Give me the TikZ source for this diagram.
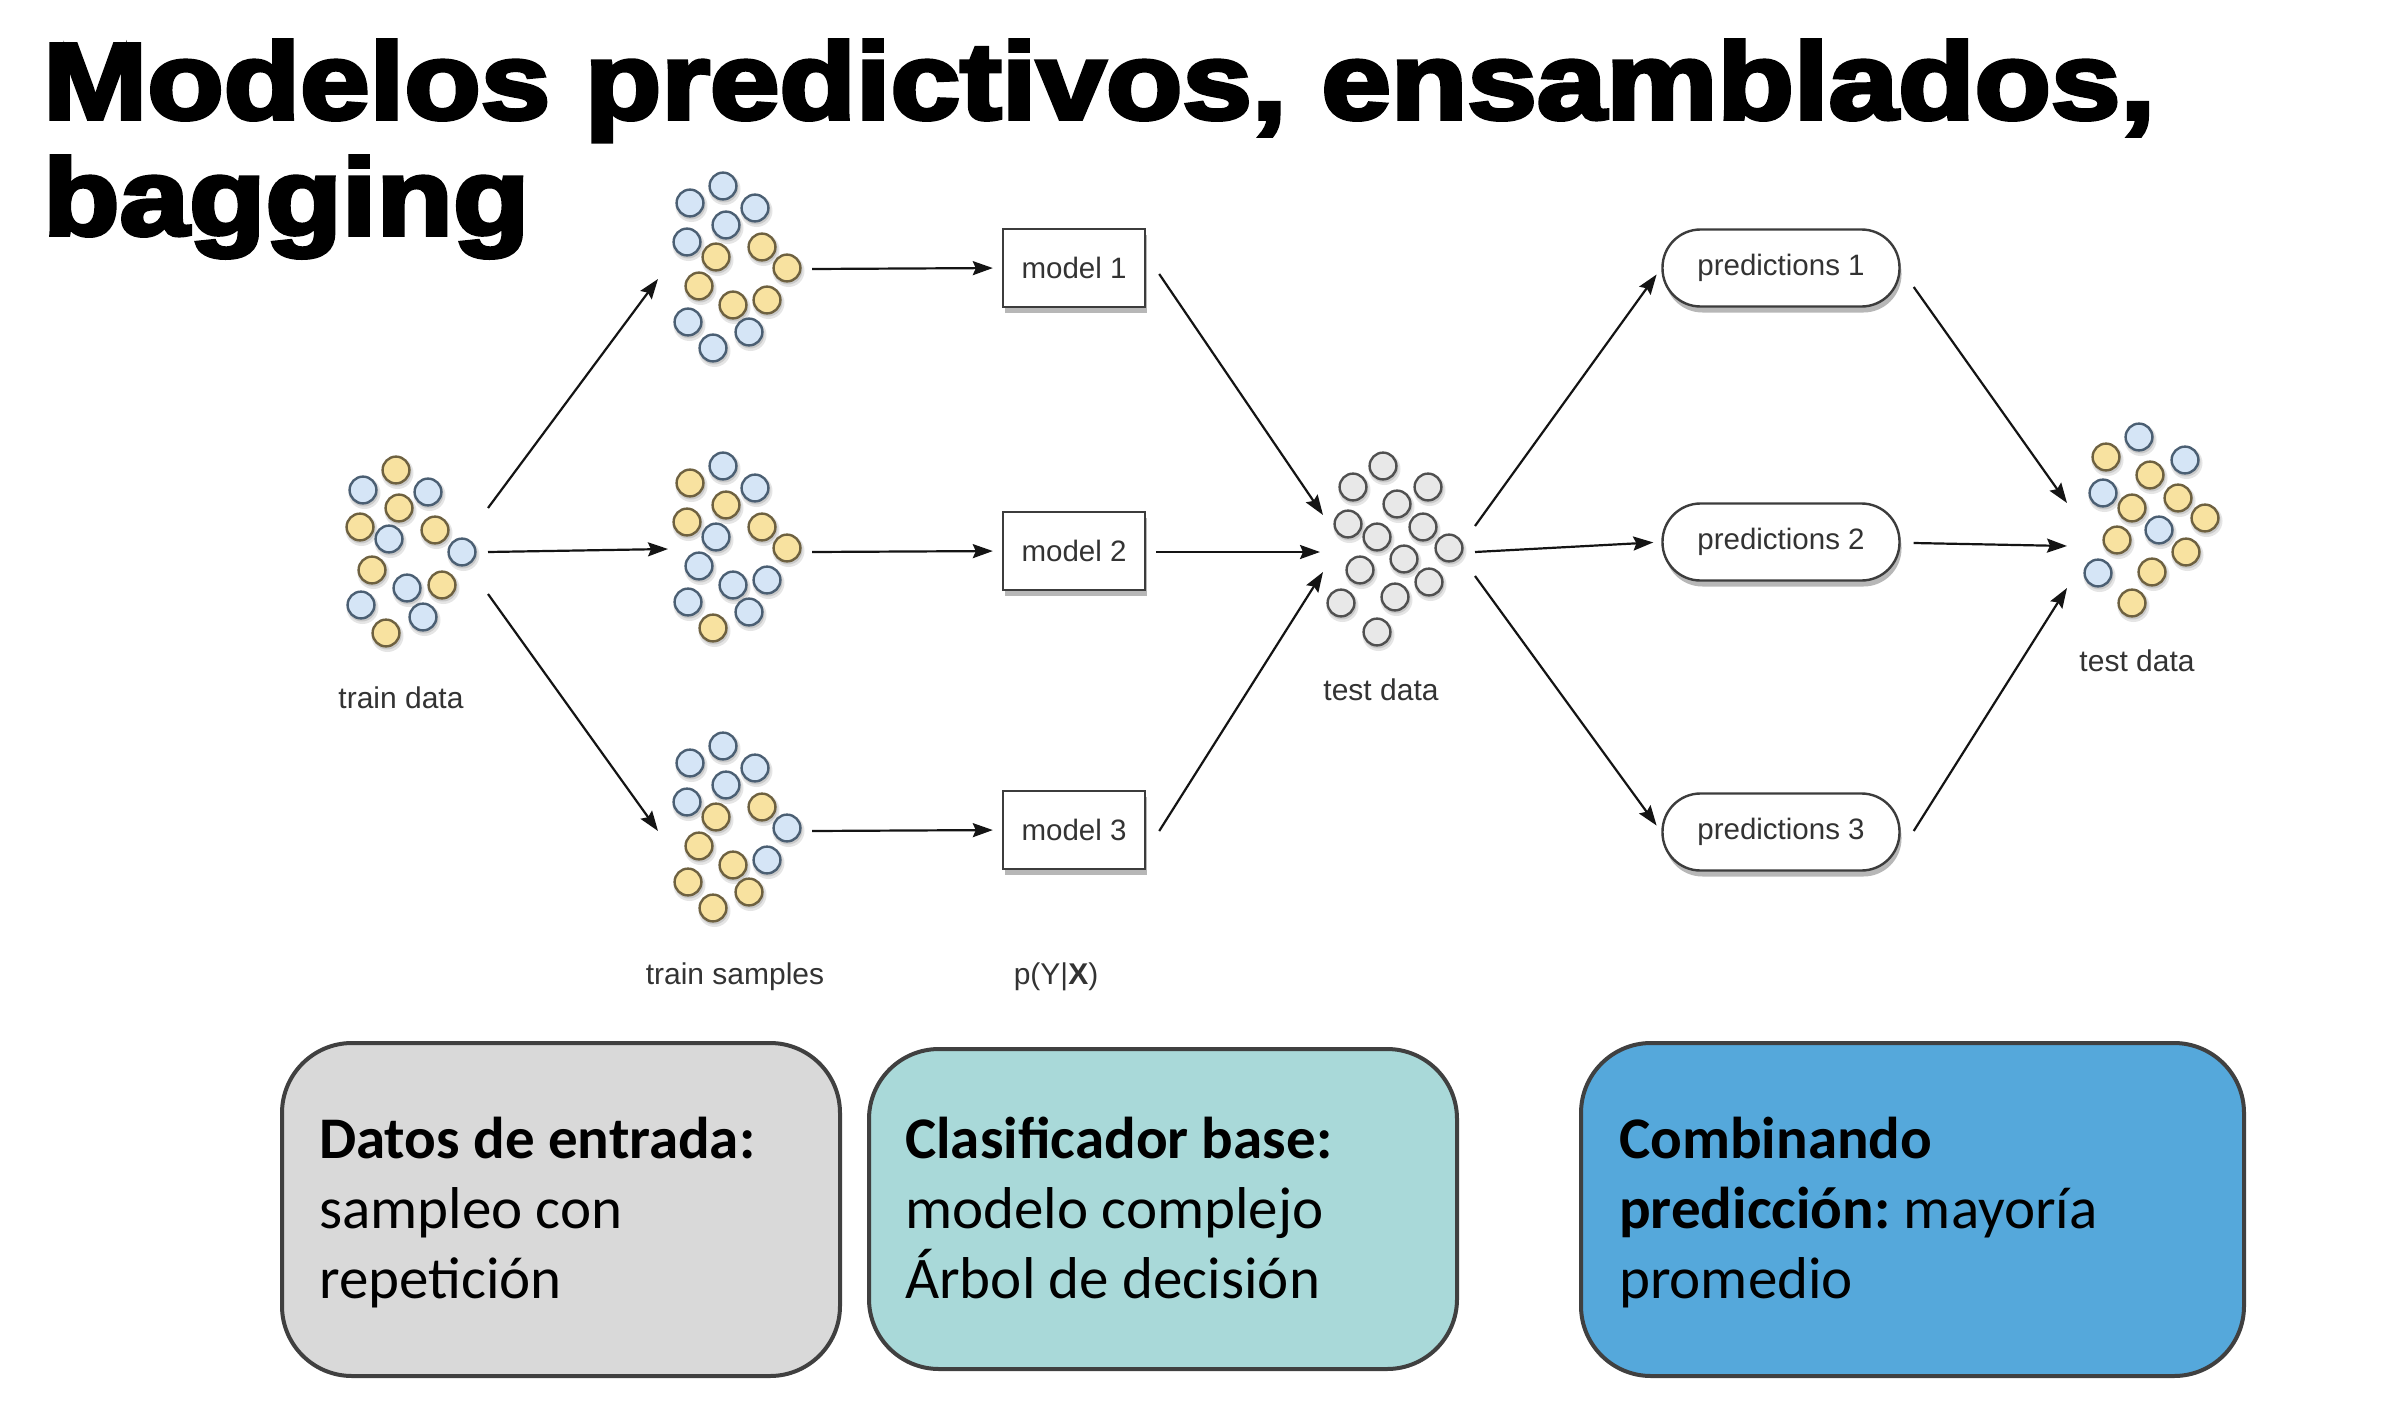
\documentclass[tikz,border=0pt]{standalone}
\usepackage{fontspec}
\usepackage{graphicx}
\usetikzlibrary{arrows.meta,shadows,calc}
\setmainfont{Liberation Sans}
\newfontfamily\boxfont{Carlito}
\newfontfamily\titlefont[BoldFeatures={FakeBold=3.5}]{Liberation Sans}

\definecolor{labelgray}{HTML}{333333}
\definecolor{bluefill}{HTML}{D5E5F6}
\definecolor{blueline}{HTML}{4B5F73}
\definecolor{yellowfill}{HTML}{F8E2A0}
\definecolor{yellowline}{HTML}{6E6140}
\definecolor{grayfill}{HTML}{E8E8E8}
\definecolor{grayline}{HTML}{505050}
\definecolor{modelline}{HTML}{3C3C3C}
\definecolor{boxline}{HTML}{404040}
\definecolor{inputfill}{HTML}{D9D9D9}
\definecolor{basefill}{HTML}{A9D9D9}
\definecolor{combifill}{HTML}{55A8DB}

% one data point with its soft shadow
\newcommand\bead[3]{%
  \fill[black,opacity=.10] (#1+1.5,#2+3) circle (16);
  \fill[black,opacity=.12] (#1+1,#2+2) circle (14.5);
  \filldraw[dot#3] (#1,#2) circle (13.4);
}

\begin{document}
\begin{tikzpicture}[x=1pt,y=-1pt,
  dotB/.style={fill=bluefill,draw=blueline,line width=2.4pt},
  dotY/.style={fill=yellowfill,draw=yellowline,line width=2.4pt},
  dotG/.style={fill=grayfill,draw=grayline,line width=2.4pt},
  lbl/.style={font=\fontsize{30}{36}\selectfont,text=labelgray,inner sep=0},
  modelbox/.style={draw=modelline,line width=2.4pt,fill=white,minimum width=142pt,minimum height=78pt,
    font=\fontsize{29.5}{34}\selectfont,text=labelgray,
    drop shadow={shadow xshift=2pt,shadow yshift=-6pt,opacity=.4,fill=black!70}},
  predbox/.style={modelbox,minimum width=237pt,minimum height=77pt,rounded corners=38pt},
  arr/.style={-{Stealth[length=20pt,width=14pt,inset=3pt]},line width=2.2pt,draw=black!92},
  infobox/.style={draw=boxline,line width=4pt,rounded corners=70pt},
  boxtext/.style={align=left,inner sep=0,anchor=north west,font=\boxfont\frenchspacing\fontsize{59}{70}\selectfont}
]
\useasboundingbox (0,0) rectangle (2390,1402);
\fill[white] (0,0) rectangle (2390,1402);

% title
\node[anchor=base west,inner sep=0,font=\titlefont\bfseries\fontsize{109}{116}\selectfont] (title) at (43,119)
  {\scalebox{1.147}[1]{Modelos predictivos, ensamblados,}};
\node[anchor=base west,inner sep=0,font=\titlefont\bfseries\fontsize{109}{116}\selectfont] (title2) at (43,235)
  {\scalebox{1.147}[1]{bagging}};

% training set
\foreach \x/\y/\c in {396/470/Y,363/490/B,428/492/B,399/508/Y,360/527/Y,389/539/B,435/530/Y,
  462/552/B,372/570/Y,407/588/B,442/585/Y,361/605/B,423/617/B,386/633/Y}
  {\bead{\x}{\y}{\c}}
\node[lbl] (trainlbl) at (401,698) {train data};

% bootstrap samples
\begin{scope}[shift={(723,186)}]
\foreach \x/\y/\c in {0/0/B,-33/17/B,32/22/B,3/39/B,-36/56/B,-7/71/Y,39/61/Y,64/82/Y,
  -24/100/Y,10/119/Y,44/114/Y,-35/136/B,26/146/B,-10/162/B}
  {\bead{\x}{\y}{\c}}
\end{scope}
\begin{scope}[shift={(723,466)}]
\foreach \x/\y/\c in {0/0/B,-33/17/Y,32/22/B,3/39/Y,-36/56/Y,-7/71/B,39/61/Y,64/82/Y,
  -24/100/B,10/119/B,44/114/B,-35/136/B,26/146/B,-10/162/Y}
  {\bead{\x}{\y}{\c}}
\end{scope}
\begin{scope}[shift={(723,746)}]
\foreach \x/\y/\c in {0/0/B,-33/17/B,32/22/B,3/39/B,-36/56/B,-7/71/Y,39/61/Y,64/82/B,
  -24/100/Y,10/119/Y,44/114/B,-35/136/Y,26/146/Y,-10/162/Y}
  {\bead{\x}{\y}{\c}}
\end{scope}
\node[lbl] (samplelbl) at (735,977) {train samples};

% test set
\foreach \x/\y in {1383/466,1353/487,1428/487,1397/504,1348/524,1377/537,1423/527,
  1449/548,1404/559,1360/570,1429/582,1395/597,1341/603,1377/632}
  {\bead{\x}{\y}{G}}
\node[lbl] (testlbl) at (1381,690) {test data};

% combined result
\foreach \x/\y/\c in {2139/437/B,2106/457/Y,2185/460/B,2150/475/Y,2103/493/B,2132/508/Y,
  2178/498/Y,2205/518/Y,2159/530/B,2117/540/Y,2186/552/Y,2152/572/Y,2098/573/B,2132/603/Y}
  {\bead{\x}{\y}{\c}}
\node[lbl] (finallbl) at (2137,661) {test data};

% models and predictions
\node[modelbox] (m1) at (1074,268) {model 1};
\node[modelbox] (m2) at (1074,551) {model 2};
\node[modelbox] (m3) at (1074,830) {model 3};
\node[lbl] (plbl) at (1056,977) {p(Y\textbar\textbf{X})};

\node[predbox] (p1) at (1781,268) {predictions 1};
\node[predbox] (p2) at (1781,542) {predictions 2};
\node[predbox] (p3) at (1781,832) {predictions 3};

% arrow end points at the point clouds
\coordinate (tr-o1) at (488,508);
\coordinate (tr-o2) at (488,552);
\coordinate (tr-o3) at (488,594);
\coordinate (s1-i) at (658,279);
\coordinate (s2-i) at (668,549);
\coordinate (s3-i) at (658,831);
\coordinate (s1-o) at (812,269);
\coordinate (s2-o) at (812,552);
\coordinate (s3-o) at (812,831);
\coordinate (te-i1) at (1323,515);
\coordinate (te-i2) at (1320,552);
\coordinate (te-i3) at (1323,572);
\coordinate (te-o1) at (1475,526);
\coordinate (te-o2) at (1475,552);
\coordinate (te-o3) at (1475,576);
\coordinate (fi-i1) at (2067,503);
\coordinate (fi-i2) at (2067,546);
\coordinate (fi-i3) at (2067,588);

\draw[arr] (tr-o1) -- (s1-i);
\draw[arr] (tr-o2) -- (s2-i);
\draw[arr] (tr-o3) -- (s3-i);
\draw[arr,shorten >=9pt] (s1-o) -- (m1.west);
\draw[arr,shorten >=9pt] (s2-o) -- (m2.west);
\draw[arr,shorten >=9pt] (s3-o) -- (m3.west);
\draw[arr] ($(m1.east)+(13,6)$) -- (te-i1);
\draw[arr] ($(m2.east)+(10,1)$) -- (te-i2);
\draw[arr] ($(m3.east)+(13,1)$) -- (te-i3);
\draw[arr,shorten >=8pt] (te-o1) -- (p1.west);
\draw[arr,shorten >=8pt] (te-o2) -- (p2.west);
\draw[arr,shorten >=8pt] (te-o3) -- (p3.west);
\draw[arr] ($(p1.east)+(13,19)$) -- (fi-i1);
\draw[arr] ($(p2.east)+(13,1)$) -- (fi-i2);
\draw[arr] ($(p3.east)+(13,-1)$) -- (fi-i3);

% explanation boxes
\node[infobox,fill=inputfill,minimum width=558pt,minimum height=333pt] (b1) at (561,1209.5) {};
\node[infobox,fill=basefill,minimum width=588pt,minimum height=320pt] (b2) at (1163,1209) {};
\node[infobox,fill=combifill,minimum width=663pt,minimum height=333pt] (b3) at (1912.5,1209.5) {};

\node[boxtext] (t1) at (319,1117) {\textbf{Datos de entrada:}\\sampleo con\\repetición};
\node[boxtext] (t2) at (905,1117) {\textbf{Clasificador base:}\\modelo complejo\\Árbol de decisión};
\node[boxtext] (t3) at (1619,1117) {\textbf{Combinando}\\\textbf{predicción:} mayoría\\promedio};
\end{tikzpicture}
\end{document}
